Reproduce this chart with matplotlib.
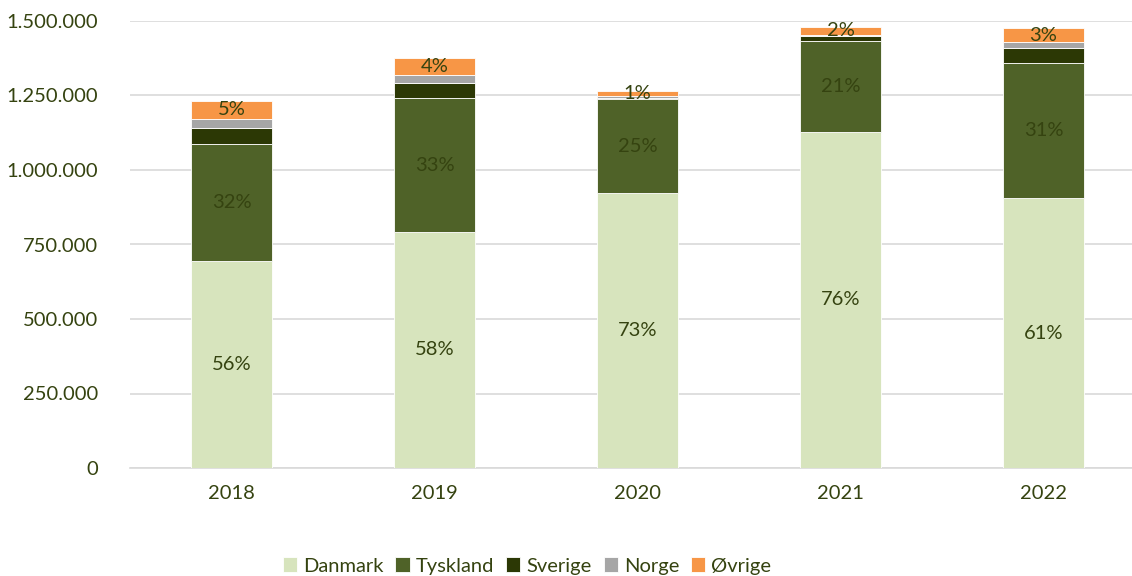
import matplotlib
matplotlib.use("Agg")
import matplotlib.pyplot as plt
import numpy as np
from matplotlib.ticker import FuncFormatter

plt.rcParams['font.family'] = ['Lato', 'DejaVu Sans']

years = ['2018', '2019', '2020', '2021', '2022']
series = ['Danmark', 'Tyskland', 'Sverige', 'Norge', 'Øvrige']
danmark = [695000, 792000, 923000, 1128000, 906000]
tyskland = [392000, 449000, 314000, 306000, 452000]
sverige = [54000, 51000, 5000, 16000, 52000]
norge = [31000, 27000, 5000, 3000, 20000]
ovrige = [59000, 57000, 18000, 28000, 46000]
labels_danmark = ['56%', '58%', '73%', '76%', '61%']
labels_tyskland = ['32%', '33%', '25%', '21%', '31%']
labels_ovrige = ['5%', '4%', '1%', '2%', '3%']

colors = ['#d7e4bd', '#4f6228', '#2c3805', '#a6a6a6', '#f79646']
txt = '#354310'

fig = plt.figure(figsize=(11.32, 5.76), dpi=100)
# axes runs a bit past the right edge, like the cropped original
ax = fig.add_axes([130 / 1132, 108 / 576, 1015 / 1132, 447 / 576])

x = np.arange(len(years))
data = [danmark, tyskland, sverige, norge, ovrige]
bottom = np.zeros(len(years))
bars = []
for name, vals, c in zip(series, data, colors):
    b = ax.bar(x, vals, width=0.4, bottom=bottom, color=c, label=name,
               edgecolor='white', linewidth=0.6, zorder=3)
    bars.append(b)
    bottom = bottom + np.array(vals)

for b, labs in [(bars[0], labels_danmark), (bars[1], labels_tyskland), (bars[4], labels_ovrige)]:
    ax.bar_label(b, labels=labs, label_type='center', color=txt, fontsize=14.5, zorder=4)

ax.set_xlim(-0.5, 4.5)
ax.set_ylim(0, 1500000)
ax.set_yticks(np.arange(0, 1500001, 250000))
ax.yaxis.set_major_formatter(FuncFormatter(lambda v, p: f"{int(v):,}".replace(',', '.')))
ax.set_xticks(x)
ax.set_xticklabels(years)
ax.tick_params(axis='both', length=0, colors=txt, labelsize=14.5)
ax.tick_params(axis='y', pad=23)
ax.tick_params(axis='x', pad=12)
ax.grid(axis='y', color='#d9d9d9', linewidth=1.2, zorder=0)
for s in ['top', 'right', 'left']:
    ax.spines[s].set_visible(False)
ax.spines['bottom'].set_color('#d9d9d9')
ax.spines['bottom'].set_linewidth(1.2)

leg = fig.legend(loc='center', bbox_to_anchor=(527 / 1132, 10 / 576), ncol=5, frameon=False,
                 fontsize=14.5, handlelength=0.7, handleheight=0.7, handletextpad=0.3,
                 columnspacing=0.6)
for t in leg.get_texts():
    t.set_color(txt)

fig.savefig('out.png', dpi=100)
